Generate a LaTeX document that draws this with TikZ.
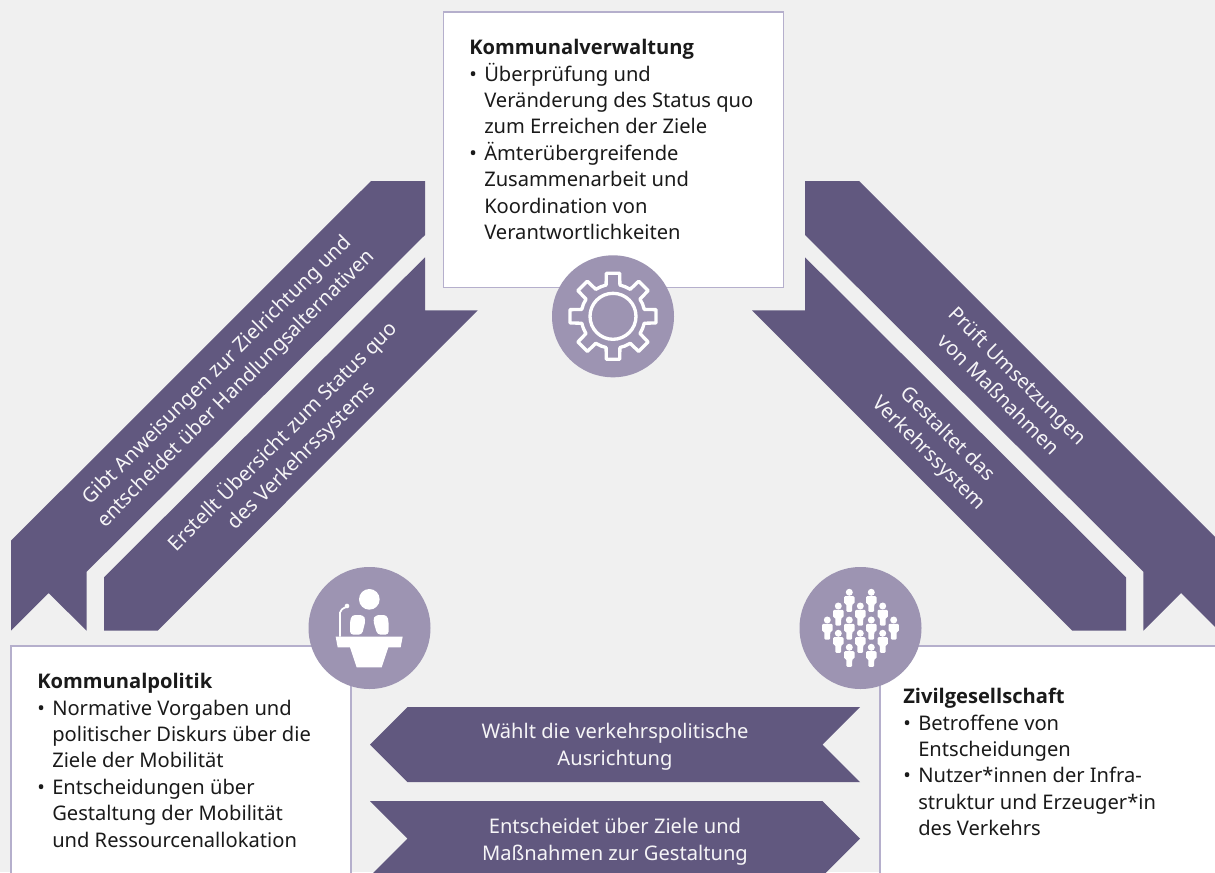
\documentclass[tikz,border=0pt]{standalone}
\usepackage{fontspec}
\setmainfont{Noto Sans}
\newfontfamily\headfont{Open Sans}
\definecolor{bg}{HTML}{F0F0F0}
\definecolor{rib}{HTML}{61587F}
\definecolor{circ}{HTML}{9D94B2}
\definecolor{edge}{HTML}{B5AFCC}
\definecolor{ink}{HTML}{1A1A1A}
\newcommand{\bodyfont}{\fontsize{15.1}{19.8}\selectfont}
\newcommand{\ribfont}{\fontsize{15.1}{20}\selectfont}
\newcommand{\bu}{\textbullet}
\newcommand{\headtxt}[1]{{\headfont\bfseries #1}}
\newcommand{\person}[2]{%
  \fill[white] (#1,#2) circle (3.5);
  \fill[white,rounded corners=0.8] (#1-5.2,#2+3.9) -- (#1+5.2,#2+3.9) -- (#1+5.2,#2+11.5) -- (#1+3,#2+11.5) -- (#1+2.8,#2+19.6) -- (#1-2.8,#2+19.6) -- (#1-3,#2+11.5) -- (#1-5.2,#2+11.5) -- cycle;}
\tikzset{
  ribbon/.style={fill=rib,draw=none},
  infobox/.style={draw=edge,fill=white,line width=1.1pt},
  badge/.style={fill=circ,draw=none},
  ribtext/.style={text=white!94!rib,align=center,inner sep=0pt,font=\ribfont},
  boxtext/.style={text=ink,anchor=north west,inner sep=0pt,font=\bodyfont},
}
\begin{document}
\begin{tikzpicture}[x=0.75pt,y=-0.75pt]
\useasboundingbox (0,0) rectangle (1215,872);
\clip (0,0) rectangle (1215,872);
\fill[bg] (0,0) rectangle (1215,872);
% boxes
\draw[infobox] (443.5,12) rectangle (783.5,287.5);
\draw[infobox] (11,646) rectangle (351,900);
\draw[infobox] (880,646) rectangle (1240,900);
% ribbons
\fill[ribbon] (371,181) -- (425,181) -- (425,235) -- (86.7,571.7) -- (86.7,630.7) -- (48.5,593) -- (11,630.7) -- (11,540.7) -- cycle;
\fill[ribbon] (425,257.3) -- (425,310.3) -- (477.7,310.3) -- (157.7,630.7) -- (104,630.7) -- (104,577.3) -- cycle;
\fill[ribbon] (805,181) -- (859,181) -- (1240,562) -- (1240,651.7) -- (1181,593) -- (1143.3,630.7) -- (1143.3,571.7) -- (805,235) -- cycle;
\fill[ribbon] (805,257.3) -- (805,310.3) -- (752,310.3) -- (1072.3,630.7) -- (1126,630.7) -- (1126,577.3) -- cycle;
% horizontal arrows
\fill[ribbon] (370,744.5) -- (407.5,707) -- (860,707) -- (822.5,744.5) -- (860,782) -- (407.5,782) -- cycle;
\fill[ribbon] (370,801) -- (822.5,801) -- (860,838.5) -- (822.5,876) -- (370,876) -- (407.5,838.5) -- cycle;
% ribbon texts
\node[ribtext,rotate=45] (t1) at (227,380) {Gibt Anweisungen zur Zielrichtung und\\entscheidet über Handlungsalternativen};
\node[ribtext,rotate=45] (t2) at (292,446) {Erstellt Übersicht zum Status quo\\des Verkehrssystems};
\node[ribtext,rotate=-45] (t3) at (1008.7,384.7) {Prüft Umsetzungen\\von Maßnahmen};
\node[ribtext,rotate=-45] (t4) at (937.7,444.5) {Gestaltet das\\Verkehrssystem};
\node[ribtext] (t5) at (615,747) {Wählt die verkehrspolitische\\Ausrichtung};
\node[ribtext] (t6) at (615,841.5) {Entscheidet über Ziele und\\Maßnahmen zur Gestaltung};
% circles
\fill[badge] (613,316.3) circle (61);
\fill[badge] (369.5,628) circle (61);
\fill[badge] (860.5,628) circle (61);
% gear
\begin{scope}[shift={(613,316.3)},draw=white,line width=2.5pt,line join=round,line cap=round]
\draw (0,0) circle (23);
\foreach \a in {0,45,...,315}{
  \draw (\a-22.5:32) arc[start angle=\a-22.5,end angle=\a-12.5,radius=32] -- (\a-8.8:43.5) -- (\a+8.8:43.5) -- (\a+12.5:32) arc[start angle=\a+12.5,end angle=\a+22.5,radius=32];
}
\end{scope}
% speaker
\begin{scope}[shift={(300,560)},x=0.25pt,y=-0.25pt]
\fill[white] (208,118) circle (31);
\fill[white,rounded corners=2.5pt] (150,224) -- (150,185) -- (155,165) -- (190,165) -- (197,180) -- (186,224) -- cycle;
\fill[white,rounded corners=2.5pt] (266,224) -- (266,185) -- (261,165) -- (226,165) -- (219,180) -- (232,224) -- cycle;
\fill[white] (107,230) -- (308,230) -- (302,262) -- (265,262) -- (245,322) -- (170,322) -- (150,262) -- (113,262) -- cycle;
\draw[white,line width=1.3pt] (120,230) -- (120,158) .. controls (120,150) and (128,146) .. (140,140);
\fill[white] (141,138) circle (7);
\end{scope}
% crowd
\person{849.3}{592.3}\person{871.3}{592.3}
\person{838.3}{606}\person{860.3}{606}\person{882.7}{606}
\person{827.3}{620}\person{849.3}{620}\person{871.3}{620}\person{893.7}{620}
\person{838.3}{633.3}\person{860.3}{633.3}\person{882.7}{633.3}
\person{849.3}{647.3}\person{871.3}{647.3}
% box texts
\node[boxtext] (top) at (469,36) {\begin{tabular}{@{}p{11.25pt}@{}l@{}}
\multicolumn{2}{@{}l@{}}{\headtxt{Kommunalverwaltung}}\\
\bu&Überprüfung und\\
&Veränderung des Status quo\\
&zum Erreichen der Ziele\\
\bu&Ämterübergreifende\\
&Zusammenarbeit und\\
&Koordination von\\
&Verantwortlichkeiten
\end{tabular}};
\node[boxtext] (left) at (37,670) {\begin{tabular}{@{}p{11.25pt}@{}l@{}}
\multicolumn{2}{@{}l@{}}{\headtxt{Kommunalpolitik}}\\
\bu&Normative Vorgaben und\\
&politischer Diskurs über die\\
&Ziele der Mobilität\\
\bu&Entscheidungen über\\
&Gestaltung der Mobilität\\
&und Ressourcenallokation
\end{tabular}};
\node[boxtext] (right) at (903,685) {\begin{tabular}{@{}p{11.25pt}@{}l@{}}
\multicolumn{2}{@{}l@{}}{\headtxt{Zivilgesellschaft}}\\
\bu&Betroffene von\\
&Entscheidungen\\
\bu&Nutzer*innen der Infra-\\
&struktur und Erzeuger*in\\
&des Verkehrs
\end{tabular}};
\end{tikzpicture}
\end{document}
